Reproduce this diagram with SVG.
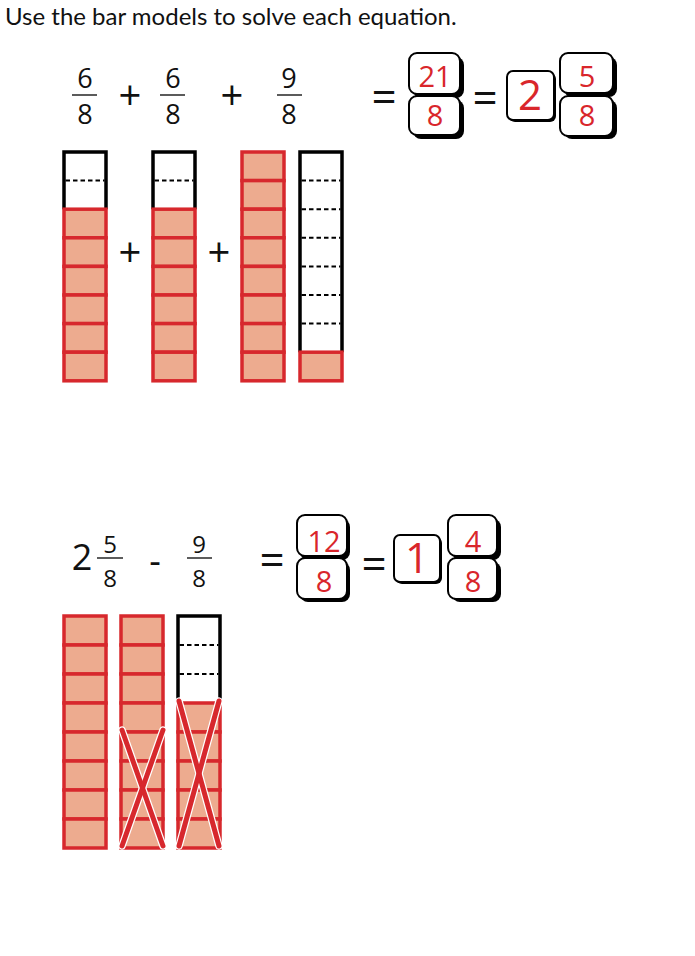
<svg xmlns="http://www.w3.org/2000/svg" width="695" height="956" viewBox="0 0 695 956">
<style>
.title{font-family:"Lato","Liberation Sans",sans-serif;font-size:24px;fill:#111}
.num{font-family:"Open Sans","Liberation Sans",sans-serif;font-size:27px;fill:#111;text-anchor:middle}
.small{font-size:24px}
.op{font-family:"Open Sans","Liberation Sans",sans-serif;fill:#111;text-anchor:middle}
.ans{font-family:"Open Sans","Liberation Sans",sans-serif;font-size:29px;fill:#d9262b;text-anchor:middle}
.big{font-size:42px}
.fbar{stroke:#333;stroke-width:1.6}
.cell{fill:#edab8f;stroke:#d7282d;stroke-width:3.5}
.empty{fill:none;stroke:#000;stroke-width:3.5}
.dash{stroke:#000;stroke-width:2;stroke-dasharray:4.5 3}
.box{fill:#fff;stroke:#000;stroke-width:2}
.shadow{fill:#000}
.xw{stroke:#fff;stroke-width:7.5;stroke-linecap:round}
.xr{stroke:#d7282d;stroke-width:5;stroke-linecap:round}
</style>
<rect width="695" height="956" fill="#fff"/>
<text class="title" x="5" y="25">Use the bar models to solve each equation.</text>

<!-- Equation 1 -->
<g id="eq1">
  <g id="frac-6-8-a"><text class="num" x="85" y="88">6</text><line class="fbar" x1="72" y1="95" x2="97" y2="95"/><text class="num" x="85" y="124">8</text></g>
  <text class="op" x="130" y="110" font-size="40">+</text>
  <g id="frac-6-8-b"><text class="num" x="173" y="88">6</text><line class="fbar" x1="160" y1="95" x2="185" y2="95"/><text class="num" x="173" y="124">8</text></g>
  <text class="op" x="232" y="110" font-size="40">+</text>
  <g id="frac-9-8"><text class="num" x="289" y="88">9</text><line class="fbar" x1="277" y1="95" x2="302" y2="95"/><text class="num" x="289" y="124">8</text></g>
  <text class="op" x="384" y="113" font-size="44">=</text>
  <g id="ans-21-8">
    <rect class="shadow" x="413" y="57" width="51" height="41" rx="8"/>
    <rect class="box" x="409" y="53" width="51" height="41" rx="8"/>
    <rect class="shadow" x="413" y="100" width="51" height="39" rx="8"/>
    <rect class="box" x="409" y="96" width="51" height="39" rx="8"/>
    <text class="ans" x="435" y="87">21</text>
    <text class="ans" x="435" y="126">8</text>
  </g>
  <text class="op" x="485" y="114" font-size="44">=</text>
  <g id="ans-2">
    <rect class="shadow" x="509" y="73" width="47" height="49" rx="6"/>
    <rect class="box" x="507" y="71" width="47" height="49" rx="6"/>
    <text class="ans big" x="530" y="110">2</text>
  </g>
  <g id="ans-5-8">
    <rect class="shadow" x="564" y="57" width="53" height="40" rx="8"/>
    <rect class="box" x="560" y="53" width="53" height="40" rx="8"/>
    <rect class="shadow" x="564" y="100" width="53" height="39" rx="8"/>
    <rect class="box" x="560" y="96" width="53" height="40" rx="8"/>
    <text class="ans" x="587" y="87">5</text>
    <text class="ans" x="587" y="126">8</text>
  </g>
</g>

<!-- Bars 1 -->
<g id="bar1">
  <path class="empty" d="M64 209.2V152H106V209.2"/>
  <line class="dash" x1="65.5" y1="180.6" x2="104.5" y2="180.6"/>
  <rect class="cell" x="64" y="209.2" width="42" height="28.6"/>
  <rect class="cell" x="64" y="237.8" width="42" height="28.6"/>
  <rect class="cell" x="64" y="266.4" width="42" height="28.6"/>
  <rect class="cell" x="64" y="295" width="42" height="28.6"/>
  <rect class="cell" x="64" y="323.6" width="42" height="28.6"/>
  <rect class="cell" x="64" y="352.2" width="42" height="28.6"/>
</g>
<text class="op" x="130" y="267" font-size="40">+</text>
<g id="bar2">
  <path class="empty" d="M153 209.2V152H195V209.2"/>
  <line class="dash" x1="154.5" y1="180.6" x2="193.5" y2="180.6"/>
  <rect class="cell" x="153" y="209.2" width="42" height="28.6"/>
  <rect class="cell" x="153" y="237.8" width="42" height="28.6"/>
  <rect class="cell" x="153" y="266.4" width="42" height="28.6"/>
  <rect class="cell" x="153" y="295" width="42" height="28.6"/>
  <rect class="cell" x="153" y="323.6" width="42" height="28.6"/>
  <rect class="cell" x="153" y="352.2" width="42" height="28.6"/>
</g>
<text class="op" x="219" y="267" font-size="40">+</text>
<g id="bar3">
  <rect class="cell" x="242" y="152" width="42" height="28.6"/>
  <rect class="cell" x="242" y="180.6" width="42" height="28.6"/>
  <rect class="cell" x="242" y="209.2" width="42" height="28.6"/>
  <rect class="cell" x="242" y="237.8" width="42" height="28.6"/>
  <rect class="cell" x="242" y="266.4" width="42" height="28.6"/>
  <rect class="cell" x="242" y="295" width="42" height="28.6"/>
  <rect class="cell" x="242" y="323.6" width="42" height="28.6"/>
  <rect class="cell" x="242" y="352.2" width="42" height="28.6"/>
</g>
<g id="bar4">
  <path class="empty" d="M300 352.2V152H342V352.2"/>
  <line class="dash" x1="301.5" y1="180.6" x2="340.5" y2="180.6"/>
  <line class="dash" x1="301.5" y1="209.2" x2="340.5" y2="209.2"/>
  <line class="dash" x1="301.5" y1="237.8" x2="340.5" y2="237.8"/>
  <line class="dash" x1="301.5" y1="266.4" x2="340.5" y2="266.4"/>
  <line class="dash" x1="301.5" y1="295" x2="340.5" y2="295"/>
  <line class="dash" x1="301.5" y1="323.6" x2="340.5" y2="323.6"/>
  <rect class="cell" x="300" y="352.2" width="42" height="28.6"/>
</g>

<!-- Equation 2 -->
<g id="eq2">
  <g id="mixed-2-5-8">
    <text class="op" x="82" y="570" font-size="36">2</text>
    <text class="num small" x="110" y="553">5</text>
    <line class="fbar" x1="97" y1="558" x2="123" y2="558"/>
    <text class="num small" x="110" y="587">8</text>
  </g>
  <text class="op" x="155" y="574" font-size="36">-</text>
  <g id="frac-9-8-b">
    <text class="num small" x="199" y="553">9</text>
    <line class="fbar" x1="187" y1="558" x2="212" y2="558"/>
    <text class="num small" x="199" y="587">8</text>
  </g>
  <text class="op" x="272" y="576" font-size="44">=</text>
  <g id="ans-12-8">
    <rect class="shadow" x="300" y="519" width="50" height="41" rx="8"/>
    <rect class="box" x="297" y="515" width="50" height="41" rx="8"/>
    <rect class="shadow" x="300" y="562" width="50" height="40" rx="8"/>
    <rect class="box" x="297" y="558" width="50" height="41" rx="8"/>
    <text class="ans" x="324" y="552">12</text>
    <text class="ans" x="324" y="592">8</text>
  </g>
  <text class="op" x="374" y="580" font-size="44">=</text>
  <g id="ans-1">
    <rect class="shadow" x="396" y="537" width="46" height="47" rx="6"/>
    <rect class="box" x="394" y="535" width="46" height="47" rx="6"/>
    <text class="ans big" x="417" y="573">1</text>
  </g>
  <g id="ans-4-8">
    <rect class="shadow" x="452" y="519" width="49" height="41" rx="8"/>
    <rect class="box" x="448" y="515" width="49" height="41" rx="8"/>
    <rect class="shadow" x="452" y="562" width="49" height="40" rx="8"/>
    <rect class="box" x="448" y="558" width="49" height="41" rx="8"/>
    <text class="ans" x="473" y="552">4</text>
    <text class="ans" x="473" y="592">8</text>
  </g>
</g>

<!-- Bars 2 -->
<g id="bar5">
  <rect class="cell" x="64" y="616" width="42" height="29"/>
  <rect class="cell" x="64" y="645" width="42" height="29"/>
  <rect class="cell" x="64" y="674" width="42" height="29"/>
  <rect class="cell" x="64" y="703" width="42" height="29"/>
  <rect class="cell" x="64" y="732" width="42" height="29"/>
  <rect class="cell" x="64" y="761" width="42" height="29"/>
  <rect class="cell" x="64" y="790" width="42" height="29"/>
  <rect class="cell" x="64" y="819" width="42" height="29"/>
</g>
<g id="bar6">
  <rect class="cell" x="121" y="616" width="42" height="29"/>
  <rect class="cell" x="121" y="645" width="42" height="29"/>
  <rect class="cell" x="121" y="674" width="42" height="29"/>
  <rect class="cell" x="121" y="703" width="42" height="29"/>
  <rect class="cell" x="121" y="732" width="42" height="29"/>
  <rect class="cell" x="121" y="761" width="42" height="29"/>
  <rect class="cell" x="121" y="790" width="42" height="29"/>
  <rect class="cell" x="121" y="819" width="42" height="29"/>
  <line class="xw" x1="122" y1="730" x2="163" y2="846"/>
  <line class="xw" x1="163" y1="730" x2="122" y2="846"/>
  <line class="xr" x1="122" y1="730" x2="163" y2="846"/>
  <line class="xr" x1="163" y1="730" x2="122" y2="846"/>
</g>
<g id="bar7">
  <path class="empty" d="M178 703V616H220V703"/>
  <line class="dash" x1="179.5" y1="645" x2="218.5" y2="645"/>
  <line class="dash" x1="179.5" y1="674" x2="218.5" y2="674"/>
  <rect class="cell" x="178" y="703" width="42" height="29"/>
  <rect class="cell" x="178" y="732" width="42" height="29"/>
  <rect class="cell" x="178" y="761" width="42" height="29"/>
  <rect class="cell" x="178" y="790" width="42" height="29"/>
  <rect class="cell" x="178" y="819" width="42" height="29"/>
  <line class="xw" x1="179" y1="701" x2="219" y2="846"/>
  <line class="xw" x1="219" y1="701" x2="179" y2="846"/>
  <line class="xr" x1="179" y1="701" x2="219" y2="846"/>
  <line class="xr" x1="219" y1="701" x2="179" y2="846"/>
</g>
</svg>
